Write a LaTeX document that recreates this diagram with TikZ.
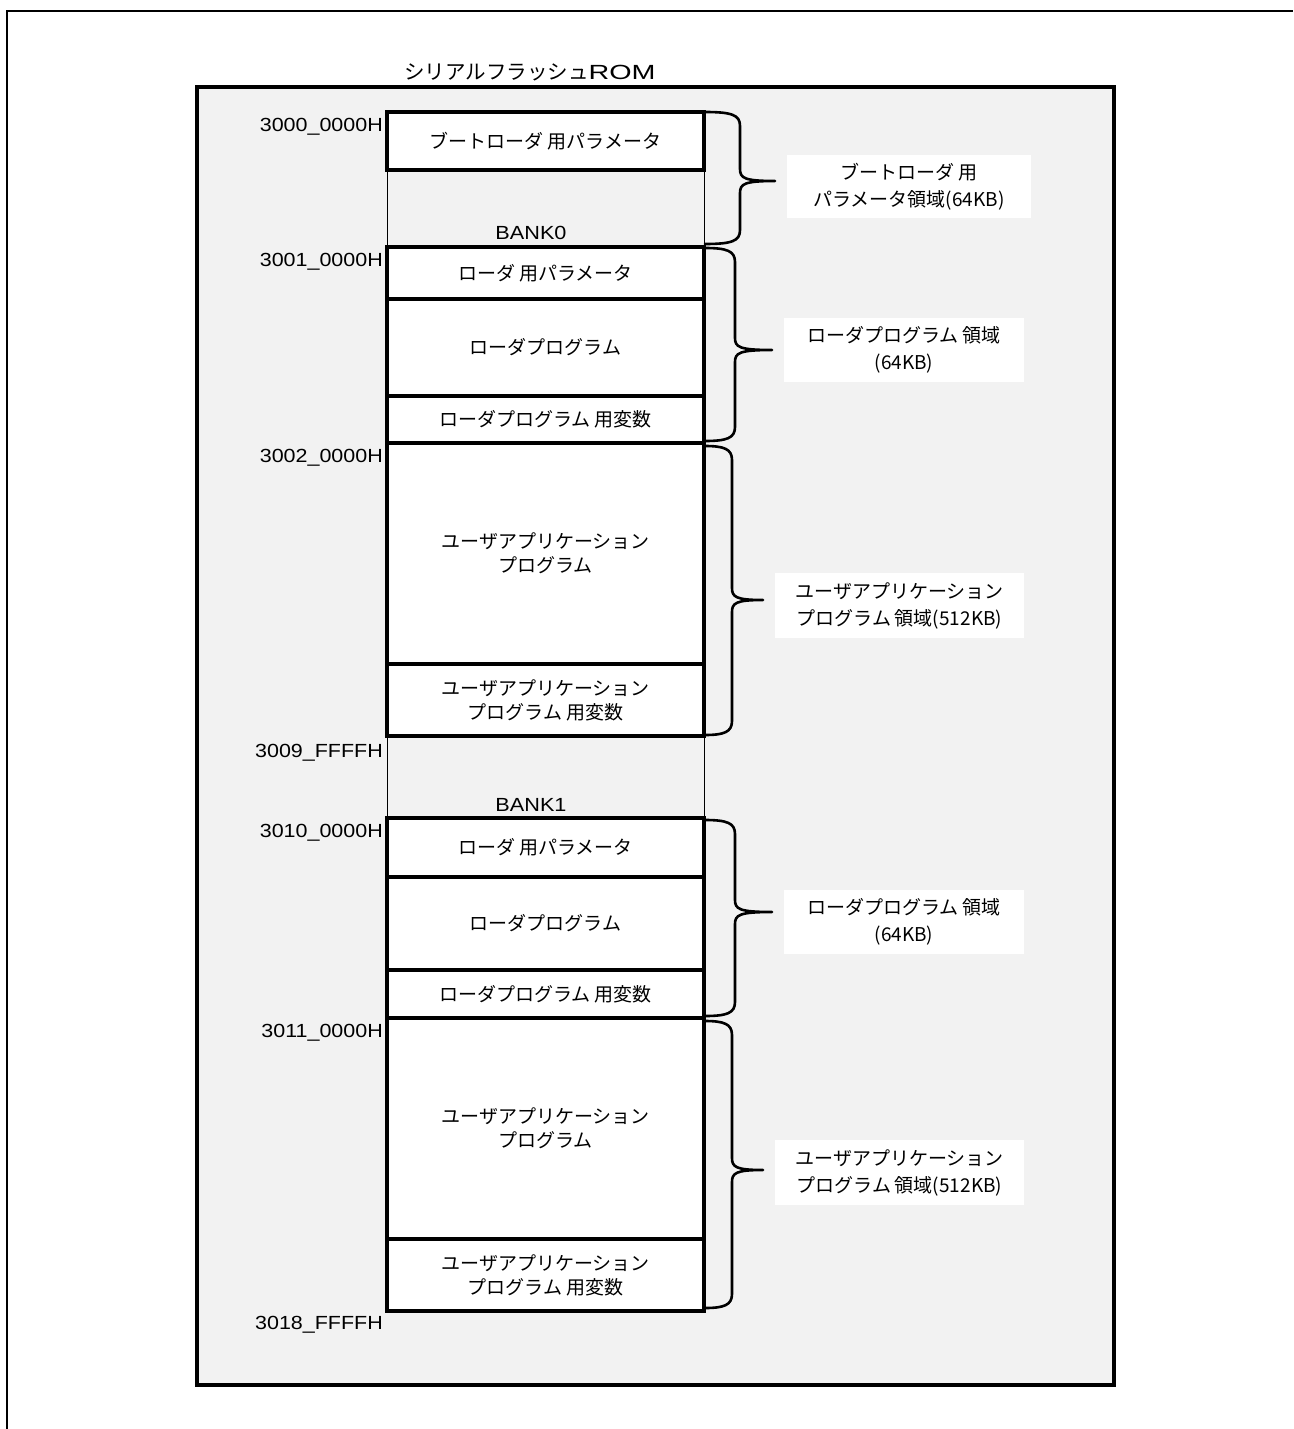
\documentclass[tikz,border=0pt]{standalone}
\usepackage{fontspec}
\usepackage{graphicx}
\setmainfont{Liberation Sans}
\newfontfamily\jp{Noto Sans CJK JP}
\definecolor{bggray}{HTML}{F2F2F2}
\newcommand\mybrace[5]{\draw[bracestyle] (705,#1) .. controls (#4-8,#1) and (#4,#1+3) .. (#4,#1+14) -- (#4,#3-12) .. controls (#4,#3-3) and (#4+4,#3) .. (#5,#3) .. controls (#4+4,#3) and (#4,#3+3) .. (#4,#3+12) -- (#4,#2-14) .. controls (#4,#2-3) and (#4-8,#2) .. (705,#2);}
\newcommand\gp{\hspace{0.2em}}
\begin{document}
\begin{tikzpicture}[x=1pt,y=-1pt,
  membox/.style={draw, line width=3.5pt, fill=white, minimum width=317pt, inner sep=0pt, outer sep=0pt, font=\jp\fontsize{19}{24}\selectfont, align=center},
  addr/.style={anchor=east, inner sep=0pt, font=\fontsize{19}{22}\selectfont},
  bank/.style={inner sep=0pt, font=\fontsize{19}{22}\selectfont},
  lab/.style={fill=white, inner sep=0pt, font=\jp\fontsize{19}{27}\selectfont, align=center},
  bracestyle/.style={line width=2.6pt, line join=round, line cap=round}]
\useasboundingbox (0,0) rectangle (1293,1429);
\fill[white] (0,0) rectangle (1293,1429);
% outer frame (left and top)
\draw[line width=2pt] (7,1429) -- (7,11) -- (1293,11);
% gray area
\draw[line width=4pt, fill=bggray] (197,87) rectangle (1114,1385);
% title
\node[inner sep=0pt, font=\fontsize{20.5}{24}\selectfont] (title) at (530,72) {\jp シリアルフラッシュ\rmfamily\scalebox{1.4}[1]{ROM}};
% column thin lines
\draw[line width=1pt] (387,112) -- (387,1311);
\draw[line width=1pt] (704,112) -- (704,1311);
% memory boxes
\node[membox, minimum height=58pt] (bA) at (545.5,141) {ブートローダ\gp 用パラメータ};
\node[membox, minimum height=52pt] (b1) at (545.5,273) {ローダ\gp 用パラメータ};
\node[membox, minimum height=97pt] (b2) at (545.5,347.5) {ローダプログラム};
\node[membox, minimum height=47pt] (b3) at (545.5,419.5) {ローダプログラム\gp 用変数};
\node[membox, minimum height=221pt] (b4) at (545.5,553.5) {ユーザアプリケーション\\プログラム};
\node[membox, minimum height=72pt] (b5) at (545.5,700) {ユーザアプリケーション\\プログラム\gp 用変数};
\node[membox, minimum height=59pt] (b6) at (545.5,847.5) {ローダ\gp 用パラメータ};
\node[membox, minimum height=93pt] (b7) at (545.5,923.5) {ローダプログラム};
\node[membox, minimum height=48pt] (b8) at (545.5,994) {ローダプログラム\gp 用変数};
\node[membox, minimum height=221pt] (b9) at (545.5,1128.5) {ユーザアプリケーション\\プログラム};
\node[membox, minimum height=72pt] (b10) at (545.5,1275) {ユーザアプリケーション\\プログラム\gp 用変数};
% bank labels
\node[bank] (bank0) at (531,233) {\scalebox{1.14}[1]{BANK0}};
\node[bank] (bank1) at (531,805) {\scalebox{1.14}[1]{BANK1}};
% address labels
\node[addr] (a1) at (383,127) {\scalebox{1.13}[1]{3000\_0000H}};
\node[addr] (a2) at (383,262) {\scalebox{1.13}[1]{3001\_0000H}};
\node[addr] (a3) at (383,458) {\scalebox{1.13}[1]{3002\_0000H}};
\node[addr] (a4) at (383,753) {\scalebox{1.13}[1]{3009\_FFFFH}};
\node[addr] (a5) at (383,833) {\scalebox{1.13}[1]{3010\_0000H}};
\node[addr] (a6) at (383,1033) {\scalebox{1.13}[1]{3011\_0000H}};
\node[addr] (a7) at (383,1325) {\scalebox{1.13}[1]{3018\_FFFFH}};
% braces
\mybrace{112}{244}{181}{740}{775}
\mybrace{248}{441}{350}{735}{772}
\mybrace{446}{735}{600}{732}{763}
\mybrace{820}{1016}{912}{735}{772}
\mybrace{1021}{1308}{1170}{732}{763}
% region labels
\node[lab, minimum width=244pt, minimum height=63pt] (L1) at (909,186.5) {ブートローダ\gp 用\\パラメータ領域(64KB)};
\node[lab, minimum width=240pt, minimum height=64pt] (L2) at (904,350) {ローダプログラム\gp 領域\\(64KB)};
\node[lab, minimum width=249pt, minimum height=65pt] (L3) at (899.5,605.5) {ユーザアプリケーション\\プログラム\gp 領域(512KB)};
\node[lab, minimum width=240pt, minimum height=64pt] (L4) at (904,922) {ローダプログラム\gp 領域\\(64KB)};
\node[lab, minimum width=249pt, minimum height=65pt] (L5) at (899.5,1172.5) {ユーザアプリケーション\\プログラム\gp 領域(512KB)};
\end{tikzpicture}
\end{document}
